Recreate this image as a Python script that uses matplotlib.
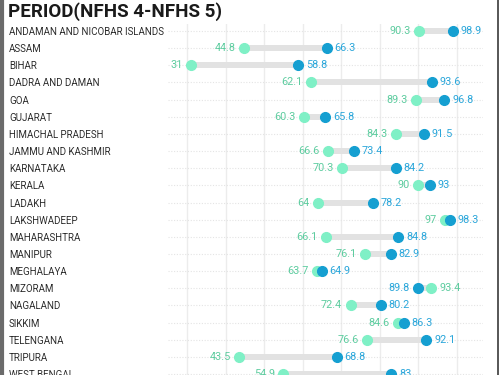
import matplotlib
matplotlib.use("Agg")
import matplotlib.pyplot as plt
from matplotlib.lines import Line2D


# =========================
# Data
# =========================

states = [
    "ANDAMAN AND NICOBAR ISLANDS", "ASSAM", "BIHAR", "DADRA AND DAMAN",
    "GOA", "GUJARAT", "HIMACHAL PRADESH", "JAMMU AND KASHMIR",
    "KARNATAKA", "KERALA", "LADAKH", "LAKSHWADEEP", "MAHARASHTRA",
    "MANIPUR", "MEGHALAYA", "MIZORAM", "NAGALAND", "SIKKIM",
    "TELENGANA", "TRIPURA", "WEST BENGAL",
]

nfhs4 = [
    90.3, 44.8, 31, 62.1, 89.3, 60.3, 84.3, 66.6, 70.3, 90, 64,
    97, 66.1, 76.1, 63.7, 93.4, 72.4, 84.6, 76.6, 43.5, 54.9,
]

nfhs5 = [
    98.9, 66.3, 58.8, 93.6, 96.8, 65.8, 91.5, 73.4, 84.2, 93, 78.2,
    98.3, 84.8, 82.9, 64.9, 89.8, 80.2, 86.3, 92.1, 68.8, 83,
]

x_ticks = [30, 40, 50, 60, 70, 80, 90, 100]


# =========================
# Style
# =========================

plt.rcParams["font.family"] = ["Roboto", "DejaVu Sans"]

green = "#7ff0c6"
green_txt = "#5dcc9f"
blue = "#159fd1"
blue_txt = "#2aa6da"
bar_col = "#e2e2e2"


# =========================
# Figure
# =========================

fig = plt.figure(
    figsize=(5, 3.75),
    dpi=100
)

ax = fig.add_axes([0.336, -0.034, 0.63, 0.9696])

rows = list(range(len(states)))

# connectors
ax.hlines(
    rows,
    nfhs4,
    nfhs5,
    color=bar_col,
    linewidth=4.3,
    zorder=2
)

ax.plot(
    nfhs4, rows, "o",
    color=green,
    markersize=7,
    zorder=3
)

ax.plot(
    nfhs5, rows, "o",
    color=blue,
    markersize=7,
    zorder=4
)

# value labels
for i in rows:

    a = nfhs4[i]
    b = nfhs5[i]

    if a <= b:
        left_v, left_c = a, green_txt
        right_v, right_c = b, blue_txt
    else:
        left_v, left_c = b, blue_txt
        right_v, right_c = a, green_txt

    ax.annotate(
        f"{left_v:g}",
        (left_v, i),
        xytext=(-6, 0),
        textcoords="offset points",
        ha="right",
        va="center",
        fontsize=7.8,
        color=left_c
    )

    ax.annotate(
        f"{right_v:g}",
        (right_v, i),
        xytext=(5.5, 0),
        textcoords="offset points",
        ha="left",
        va="center",
        fontsize=7.8,
        color=right_c
    )


# =========================
# Axes
# =========================

ax.set_xlim(25, 106.8)
ax.set_ylim(20.8, -0.4)

ax.set_xticks(x_ticks)
ax.set_yticks(rows, labels=states)

for lbl in ax.get_yticklabels():
    lbl.set_horizontalalignment("left")

ax.tick_params(
    axis="y",
    length=0,
    pad=114.5,
    labelsize=7.0,
    labelcolor="#2b2b2b"
)

ax.tick_params(
    axis="x",
    length=0,
    labelbottom=False
)

ax.grid(
    axis="x",
    color="#ececec",
    linewidth=1,
    zorder=0
)

ax.grid(
    axis="y",
    color="#e4e4e4",
    linewidth=0.8,
    linestyle=(0, (1, 1.5)),
    zorder=0
)

ax.set_axisbelow(True)

for s in ax.spines.values():
    s.set_visible(False)


# =========================
# Title and frame
# =========================

fig.text(
    0.016,
    1 - 17 / 375,
    "PERIOD(NFHS 4-NFHS 5)",
    fontsize=13.5,
    fontweight="bold",
    color="#1a1a1a",
    va="baseline",
    ha="left"
)

fig.add_artist(
    Line2D([0.003, 0.003], [0, 1], color="#6b6b6b", linewidth=3)
)

fig.add_artist(
    Line2D([0.995, 0.995], [0, 1], color="#3a3a3a", linewidth=1.2)
)

fig.savefig(
    "out.png",
    dpi=100
)
